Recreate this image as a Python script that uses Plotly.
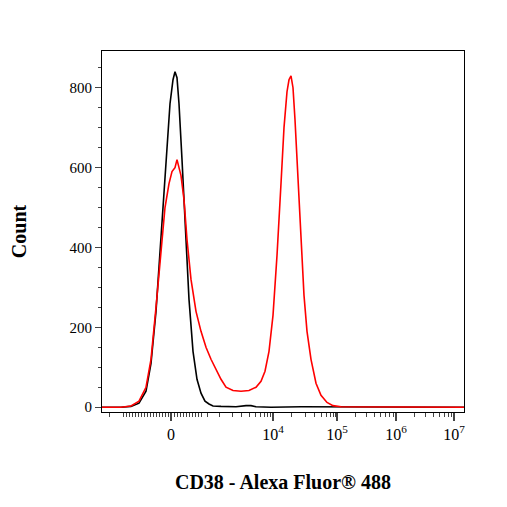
import plotly.graph_objects as go

# display-scale positions (channel units) and counts
black_x = [101,120,130,138,145,150,155,160,163,166,169,172,174,176,178,181,184,188,192,196,200,204,208,212,220,235,245,250,255,262,270,300,463]
black_y = [0,0,2,10,40,110,240,420,540,660,760,820,840,825,760,620,460,270,140,70,35,15,8,3,2,1,4,4,1,0,0,1,0]
red_x = [101,120,130,138,145,150,155,160,164,168,171,174,176,178,180,183,186,190,195,200,205,210,215,220,225,232,240,248,255,260,264,268,272,276,280,283,286,288,290,292,294,297,300,303,306,310,315,320,326,332,340,463]
red_y = [0,0,3,15,50,120,250,400,500,560,590,600,620,600,580,520,420,320,240,190,150,120,95,70,50,42,40,42,50,65,90,140,230,380,560,700,790,820,830,800,720,560,400,280,190,120,60,30,12,4,1,0]
tick_vals = [170,272,336,395,453]
tick_text = ["0","10<sup>4</sup>","10<sup>5</sup>","10<sup>6</sup>","10<sup>7</sup>"]
minor_vals = [108,122,125,128,131,134,137,140,143,146,149,152,155,158,161,164,167,173,176,179,182,185,188,191,194,197,200,206,218,231,240,248,254,259,263,266,269,290,304,313,320,325,329,332,334,354,365,373,379,384,388,392,413,424,432,438,443,447,450]

fig = go.Figure()
fig.add_trace(go.Scatter(x=black_x, y=black_y, mode="lines", line=dict(color="black", width=1.6), showlegend=False))
fig.add_trace(go.Scatter(x=red_x, y=red_y, mode="lines", line=dict(color="#ff0000", width=1.6), showlegend=False))
fig.add_trace(go.Scatter(x=[101], y=[0], xaxis="x2", mode="markers", marker=dict(opacity=0), showlegend=False, hoverinfo="skip"))

font = dict(family="Liberation Serif", color="black")
fig.update_layout(
    width=507, height=507, margin=dict(l=94, r=51, t=43, b=103),
    plot_bgcolor="white", paper_bgcolor="white", font=font,
    xaxis=dict(range=[101,463], tickvals=tick_vals, ticktext=tick_text, ticks="outside", ticklen=8, tickwidth=2,
               showgrid=False, zeroline=False, showline=True, linecolor="black", linewidth=1, mirror=True, automargin=False,
               tickfont=dict(size=16, family="Liberation Serif"),
               title=dict(text="<b>CD38 - Alexa Fluor® 488</b>", font=dict(size=20, family="Liberation Serif"), standoff=32)),
    xaxis2=dict(range=[101,463], overlaying="x", side="bottom", tickvals=minor_vals, ticks="outside", ticklen=4,
                showticklabels=False, showgrid=False, zeroline=False, anchor="y", automargin=False),
    yaxis=dict(range=[-12,892], tickvals=[0,200,400,600,800], ticks="outside", ticklen=6, showgrid=False, zeroline=False,
               showline=True, linecolor="black", linewidth=1, mirror=True, automargin=False,
               minor=dict(dtick=50, ticks="outside", ticklen=3),
               tickfont=dict(size=15, family="Liberation Serif"),
               title=dict(text="<b>Count</b>", font=dict(size=20, family="Liberation Serif"), standoff=55)),
)
fig.write_html("out.html")
